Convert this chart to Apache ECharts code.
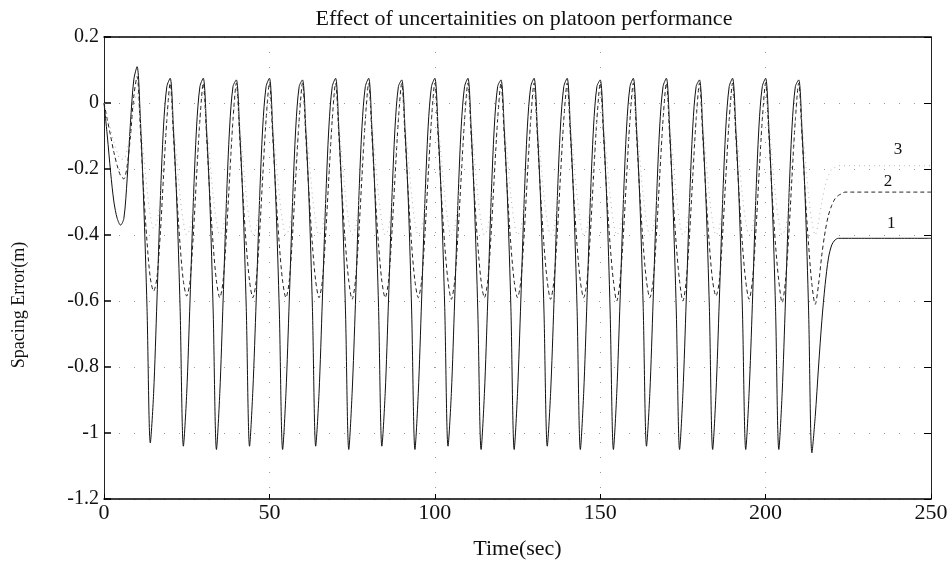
<!DOCTYPE html>
<html>
<head>
<meta charset="utf-8">
<script src="https://cdn.jsdelivr.net/npm/echarts@6/dist/echarts.min.js"></script>
<style>html,body{margin:0;padding:0;background:#fff}#chart{width:952px;height:566px}</style>
</head>
<body>
<div id="chart"></div>
<script>
// x grid: one sample per second, 0..250 s
const time = [];
for (let t = 0; t <= 250; t++) time.push(t);

const xTicks = [0, 50, 100, 150, 200, 250];
const yTicks = [0.2, 0, -0.2, -0.4, -0.6, -0.8, -1, -1.2];
const curveLabels = ['1', '2', '3'];

// curve 1 (solid)
const spacing1 = [
  0, -0.1, -0.21, -0.3, -0.35, -0.37, -0.35, -0.23, -0.06, 0.07,
  0.11, -0.05, -0.3, -0.62, -1.03, -0.88, -0.6, -0.3, -0.07, 0.05,
  0.075, -0.08, -0.3, -0.62, -1.04, -0.88, -0.6, -0.3, -0.07, 0.05,
  0.075, -0.08, -0.3, -0.63, -1.05, -0.88, -0.6, -0.3, -0.07, 0.05,
  0.07, -0.08, -0.3, -0.62, -1.04, -0.87, -0.6, -0.3, -0.07, 0.05,
  0.075, -0.08, -0.31, -0.63, -1.05, -0.88, -0.6, -0.3, -0.07, 0.05,
  0.07, -0.08, -0.3, -0.62, -1.04, -0.88, -0.6, -0.3, -0.07, 0.05,
  0.075, -0.08, -0.3, -0.63, -1.05, -0.88, -0.61, -0.3, -0.07, 0.05,
  0.075, -0.08, -0.3, -0.62, -1.04, -0.88, -0.6, -0.3, -0.07, 0.05,
  0.07, -0.08, -0.3, -0.63, -1.05, -0.88, -0.6, -0.3, -0.07, 0.05,
  0.075, -0.08, -0.3, -0.62, -1.04, -0.88, -0.6, -0.3, -0.07, 0.05,
  0.075, -0.08, -0.31, -0.63, -1.05, -0.88, -0.6, -0.3, -0.07, 0.05,
  0.07, -0.08, -0.3, -0.62, -1.05, -0.88, -0.6, -0.3, -0.07, 0.05,
  0.075, -0.08, -0.3, -0.63, -1.04, -0.88, -0.61, -0.3, -0.07, 0.05,
  0.075, -0.08, -0.3, -0.62, -1.05, -0.88, -0.6, -0.3, -0.07, 0.05,
  0.07, -0.08, -0.3, -0.63, -1.05, -0.88, -0.6, -0.3, -0.07, 0.05,
  0.075, -0.08, -0.3, -0.62, -1.04, -0.88, -0.6, -0.3, -0.07, 0.05,
  0.075, -0.08, -0.31, -0.63, -1.05, -0.88, -0.6, -0.3, -0.07, 0.05,
  0.07, -0.08, -0.3, -0.62, -1.05, -0.88, -0.6, -0.3, -0.07, 0.05,
  0.075, -0.08, -0.3, -0.63, -1.05, -0.88, -0.61, -0.3, -0.07, 0.05,
  0.075, -0.08, -0.3, -0.62, -1.05, -0.88, -0.6, -0.3, -0.07, 0.05,
  0.07, -0.08, -0.3, -0.63, -1.06, -0.95, -0.8, -0.66, -0.55, -0.47,
  -0.43, -0.415, -0.41, -0.41, -0.41, -0.41, -0.41, -0.41, -0.41, -0.41,
  -0.41, -0.41, -0.41, -0.41, -0.41, -0.41, -0.41, -0.41, -0.41, -0.41,
  -0.41, -0.41, -0.41, -0.41, -0.41, -0.41, -0.41, -0.41, -0.41, -0.41,
  -0.41
];

// curve 2 (dashed)
const spacing2 = [
  0, -0.05, -0.1, -0.15, -0.19, -0.22, -0.23, -0.19, -0.1, 0.02,
  0.08, -0.08, -0.27, -0.42, -0.53, -0.57, -0.53, -0.4, -0.22, -0.05,
  0.06, -0.1, -0.28, -0.43, -0.54, -0.585, -0.54, -0.4, -0.22, -0.05,
  0.06, -0.1, -0.28, -0.43, -0.54, -0.59, -0.54, -0.4, -0.22, -0.05,
  0.06, -0.1, -0.28, -0.43, -0.54, -0.59, -0.54, -0.4, -0.22, -0.05,
  0.06, -0.1, -0.28, -0.43, -0.54, -0.59, -0.54, -0.4, -0.22, -0.05,
  0.06, -0.1, -0.28, -0.43, -0.54, -0.59, -0.54, -0.4, -0.22, -0.05,
  0.06, -0.1, -0.28, -0.43, -0.54, -0.595, -0.54, -0.4, -0.22, -0.05,
  0.06, -0.1, -0.28, -0.43, -0.54, -0.59, -0.54, -0.4, -0.22, -0.05,
  0.06, -0.1, -0.28, -0.43, -0.54, -0.59, -0.54, -0.4, -0.22, -0.05,
  0.06, -0.1, -0.28, -0.43, -0.54, -0.595, -0.54, -0.4, -0.22, -0.05,
  0.06, -0.1, -0.28, -0.43, -0.54, -0.59, -0.54, -0.4, -0.22, -0.05,
  0.06, -0.1, -0.28, -0.43, -0.54, -0.59, -0.54, -0.4, -0.22, -0.05,
  0.06, -0.1, -0.28, -0.43, -0.54, -0.595, -0.54, -0.4, -0.22, -0.05,
  0.06, -0.1, -0.28, -0.43, -0.54, -0.59, -0.54, -0.4, -0.22, -0.05,
  0.06, -0.1, -0.28, -0.43, -0.54, -0.6, -0.54, -0.4, -0.22, -0.05,
  0.06, -0.1, -0.28, -0.43, -0.54, -0.59, -0.54, -0.4, -0.22, -0.05,
  0.06, -0.1, -0.28, -0.43, -0.54, -0.6, -0.54, -0.4, -0.22, -0.05,
  0.06, -0.1, -0.28, -0.43, -0.54, -0.585, -0.54, -0.4, -0.22, -0.05,
  0.06, -0.1, -0.28, -0.43, -0.54, -0.595, -0.54, -0.4, -0.22, -0.05,
  0.06, -0.1, -0.28, -0.43, -0.54, -0.605, -0.54, -0.4, -0.22, -0.05,
  0.06, -0.1, -0.28, -0.43, -0.55, -0.61, -0.55, -0.46, -0.39, -0.34,
  -0.31, -0.29, -0.28, -0.275, -0.27, -0.27, -0.27, -0.27, -0.27, -0.27,
  -0.27, -0.27, -0.27, -0.27, -0.27, -0.27, -0.27, -0.27, -0.27, -0.27,
  -0.27, -0.27, -0.27, -0.27, -0.27, -0.27, -0.27, -0.27, -0.27, -0.27,
  -0.27
];

// curve 3 (dotted)
const spacing3 = [
  0, -0.04, -0.08, -0.12, -0.15, -0.17, -0.17, -0.14, -0.08, -0.01,
  0.03, -0.06, -0.16, -0.26, -0.34, -0.38, -0.36, -0.29, -0.17, -0.05,
  0.03, -0.06, -0.17, -0.28, -0.36, -0.4, -0.38, -0.3, -0.18, -0.05,
  0.03, -0.06, -0.17, -0.28, -0.36, -0.4, -0.38, -0.3, -0.18, -0.05,
  0.03, -0.06, -0.17, -0.28, -0.36, -0.4, -0.38, -0.3, -0.18, -0.05,
  0.03, -0.06, -0.17, -0.28, -0.36, -0.4, -0.38, -0.3, -0.18, -0.05,
  0.03, -0.06, -0.17, -0.28, -0.36, -0.4, -0.38, -0.3, -0.18, -0.05,
  0.03, -0.06, -0.17, -0.28, -0.36, -0.4, -0.38, -0.3, -0.18, -0.05,
  0.03, -0.06, -0.17, -0.28, -0.36, -0.4, -0.38, -0.3, -0.18, -0.05,
  0.03, -0.06, -0.17, -0.28, -0.36, -0.4, -0.38, -0.3, -0.18, -0.05,
  0.03, -0.06, -0.17, -0.28, -0.36, -0.4, -0.38, -0.3, -0.18, -0.05,
  0.03, -0.06, -0.17, -0.28, -0.36, -0.4, -0.38, -0.3, -0.18, -0.05,
  0.03, -0.06, -0.17, -0.28, -0.36, -0.4, -0.38, -0.3, -0.18, -0.05,
  0.03, -0.06, -0.17, -0.28, -0.36, -0.4, -0.38, -0.3, -0.18, -0.05,
  0.03, -0.06, -0.17, -0.28, -0.36, -0.4, -0.38, -0.3, -0.18, -0.05,
  0.03, -0.06, -0.17, -0.28, -0.36, -0.4, -0.38, -0.3, -0.18, -0.05,
  0.03, -0.06, -0.17, -0.28, -0.36, -0.4, -0.38, -0.3, -0.18, -0.05,
  0.03, -0.06, -0.17, -0.28, -0.36, -0.4, -0.38, -0.3, -0.18, -0.05,
  0.03, -0.06, -0.17, -0.28, -0.36, -0.4, -0.38, -0.3, -0.18, -0.05,
  0.03, -0.06, -0.17, -0.28, -0.36, -0.4, -0.38, -0.3, -0.18, -0.05,
  0.03, -0.06, -0.17, -0.28, -0.36, -0.4, -0.38, -0.3, -0.18, -0.05,
  0.03, -0.06, -0.17, -0.28, -0.36, -0.4, -0.36, -0.3, -0.25, -0.22,
  -0.2, -0.195, -0.19, -0.19, -0.19, -0.19, -0.19, -0.19, -0.19, -0.19,
  -0.19, -0.19, -0.19, -0.19, -0.19, -0.19, -0.19, -0.19, -0.19, -0.19,
  -0.19, -0.19, -0.19, -0.19, -0.19, -0.19, -0.19, -0.19, -0.19, -0.19,
  -0.19
];

const FONT = '"Liberation Serif", "Times New Roman", serif';
const pairs = (vals) => time.map((t, i) => [t, vals[i]]);
const gridDots = { show: true, lineStyle: { color: '#9a9a9a', width: 1, type: [1, 14] } };
const endLabel = () => ({
  show: true, position: 'inside', formatter: '{c}', fontFamily: FONT, fontSize: 17, color: '#111'
});

const chart = echarts.init(document.getElementById('chart'), null, { renderer: 'canvas' });
chart.setOption({
  animation: false,
  backgroundColor: '#ffffff',
  title: {
    text: 'Effect of uncertainities on platoon performance',
    left: 519, top: 3, textAlign: 'center',
    textStyle: { fontFamily: FONT, fontSize: 22, fontWeight: 'normal', color: '#111' }
  },
  grid: { left: 104, right: 21, top: 37, bottom: 67, show: false },
  xAxis: [{
    type: 'value', min: xTicks[0], max: xTicks[xTicks.length - 1], interval: xTicks[1] - xTicks[0],
    position: 'bottom',
    name: 'Time(sec)', nameLocation: 'middle', nameGap: 39,
    nameTextStyle: { fontFamily: FONT, fontSize: 22, color: '#111' },
    axisLine: { show: true, onZero: false, lineStyle: { color: '#000', width: 1.5 } },
    axisTick: { show: true, inside: true, length: 5, lineStyle: { color: '#000' } },
    axisLabel: { fontFamily: FONT, fontSize: 22, color: '#111', margin: 3 },
    splitLine: gridDots
  }, {
    type: 'value', min: xTicks[0], max: xTicks[xTicks.length - 1], interval: xTicks[1] - xTicks[0],
    position: 'top',
    axisLine: { show: true, onZero: false, lineStyle: { color: '#000', width: 1.5 } },
    axisTick: { show: false }, axisLabel: { show: false }, splitLine: { show: false }
  }],
  yAxis: [{
    type: 'value', min: yTicks[yTicks.length - 1], max: yTicks[0], interval: 0.2,
    position: 'left',
    name: 'Spacing Error(m)', nameLocation: 'middle', nameGap: 76, nameRotate: 90,
    nameTextStyle: { fontFamily: FONT, fontSize: 18, color: '#111', padding: [0, 74, 0, 0] },
    axisLine: { show: true, onZero: false, lineStyle: { color: '#222', width: 1 } },
    axisTick: { show: true, inside: true, length: 7, lineStyle: { color: '#000', width: 1.5 } },
    axisLabel: { fontFamily: FONT, fontSize: 20, color: '#111', margin: 5,
      formatter: v => String(Math.round(v * 10) / 10) },
    splitLine: gridDots
  }, {
    type: 'value', min: yTicks[yTicks.length - 1], max: yTicks[0], interval: 0.2,
    position: 'right',
    axisLine: { show: true, onZero: false, lineStyle: { color: '#222', width: 1 } },
    axisTick: { show: true, inside: true, length: 7, lineStyle: { color: '#000' } },
    axisLabel: { show: false }, splitLine: { show: false }
  }],
  series: [{
    name: 'curve 1', type: 'line', data: pairs(spacing1), showSymbol: false, smooth: 0.3,
    lineStyle: { color: '#111', width: 1 },
    markPoint: { symbol: 'circle', symbolSize: 0, data: [{ coord: [238, -0.365], value: curveLabels[0] }],
      label: endLabel() }
  }, {
    name: 'curve 2', type: 'line', data: pairs(spacing2), showSymbol: false, smooth: 0.3,
    lineStyle: { color: '#222', width: 1, type: [4, 3] },
    markPoint: { symbol: 'circle', symbolSize: 0, data: [{ coord: [237, -0.239], value: curveLabels[1] }],
      label: endLabel() }
  }, {
    name: 'curve 3', type: 'line', data: pairs(spacing3), showSymbol: false, smooth: 0.3,
    lineStyle: { color: '#b5b5b5', width: 1, type: [1, 4] },
    markPoint: { symbol: 'circle', symbolSize: 0, data: [{ coord: [240, -0.14], value: curveLabels[2] }],
      label: endLabel() }
  }]
});
</script>
</body>
</html>
